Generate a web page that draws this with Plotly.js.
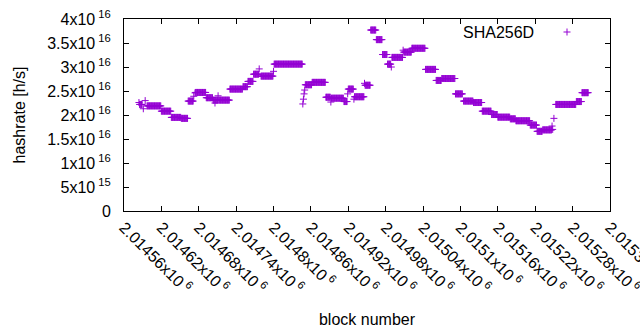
<!DOCTYPE html>
<html>
<head>
<meta charset="utf-8">
<script src="https://cdn.plot.ly/plotly-3.0.1.min.js"></script>
<style>html,body{margin:0;padding:0;background:#fff;}#chart{width:640px;height:330px;}</style>
</head>
<body>
<div id="chart"></div>
<script>
// Step segments: first block, last block, hashrate (x10^16 h/s)
const segFirst = [2014584,2014585,2014591,2014594,2014597,2014620,2014636,2014652,2014663,2014672,2014674,2014675,2014692,2014703,2014706,2014707,2014711,2014712,2014730,2014751,2014759,2014768,2014777,2014780,2014800,2014801,2014847,2014848,2014849,2014850,2014851,2014862,2014884,2014892,2014893,2014913,2014919,2014920,2014929,2014930,2014946,2014947,2014956,2014965,2014975,2014983,2014989,2014990,2015008,2015009,2015022,2015044,2015061,2015070,2015092,2015105,2015121,2015135,2015150,2015160,2015180,2015189,2015212,2015223,2015232,2015247,2015248,2015250,2015253,2015286,2015295];
const segLast  = [2014584,2014589,2014591,2014594,2014619,2014635,2014651,2014662,2014671,2014672,2014674,2014691,2014702,2014705,2014706,2014710,2014711,2014729,2014750,2014758,2014767,2014776,2014777,2014799,2014800,2014846,2014847,2014848,2014849,2014850,2014861,2014883,2014891,2014892,2014912,2014918,2014919,2014928,2014929,2014945,2014946,2014955,2014964,2014974,2014982,2014988,2014989,2015007,2015008,2015021,2015043,2015060,2015069,2015091,2015103,2015120,2015134,2015149,2015159,2015179,2015188,2015211,2015222,2015231,2015246,2015247,2015248,2015250,2015285,2015294,2015305];
const segRate  = [2.26,2.22,2.13,2.30,2.19,2.08,1.95,1.93,2.29,2.39,2.46,2.47,2.36,2.31,2.25,2.31,2.40,2.31,2.54,2.59,2.70,2.85,2.96,2.81,2.91,3.06,2.23,2.33,2.44,2.52,2.63,2.68,2.37,2.27,2.35,2.28,2.44,2.54,2.33,2.38,2.66,2.62,3.77,3.57,3.26,3.06,3.00,3.20,3.35,3.31,3.39,2.95,2.72,2.76,2.44,2.29,2.26,2.08,2.01,1.955,1.92,1.88,1.79,1.66,1.69,1.77,1.70,1.93,2.22,2.28,2.465];

const xTickVals = [2014560,2014620,2014680,2014740,2014800,2014860,2014920,2014980,2015040,2015100,2015160,2015220,2015280,2015340];
const xTickText = ['2.01456x10<sup> 6</sup>','2.01462x10<sup> 6</sup>','2.01468x10<sup> 6</sup>','2.01474x10<sup> 6</sup>','2.0148x10<sup> 6</sup>','2.01486x10<sup> 6</sup>','2.01492x10<sup> 6</sup>','2.01498x10<sup> 6</sup>','2.01504x10<sup> 6</sup>','2.0151x10<sup> 6</sup>','2.01516x10<sup> 6</sup>','2.01522x10<sup> 6</sup>','2.01528x10<sup> 6</sup>','2.01534x10<sup> 6</sup>'];
const yTickVals = [0,5e15,1e16,1.5e16,2e16,2.5e16,3e16,3.5e16,4e16];
const yTickText = ['0','5x10<sup> 15</sup>','1x10<sup> 16</sup>','1.5x10<sup> 16</sup>','2x10<sup> 16</sup>','2.5x10<sup> 16</sup>','3x10<sup> 16</sup>','3.5x10<sup> 16</sup>','4x10<sup> 16</sup>'];
const seriesName = 'SHA256D';

const xs = [], ys = [];
for (let i = 0; i < segFirst.length; i++) {
  for (let b = segFirst[i]; b <= segLast[i]; b++) {
    xs.push(b);
    ys.push(segRate[i] * 1e16);
  }
}

const purple = '#9400d3';
const font = {family: '"Liberation Sans", Arial, sans-serif', size: 16, color: '#000'};

const trace = {
  x: xs, y: ys, type: 'scatter', mode: 'markers', name: seriesName,
  marker: {symbol: 'cross-thin', size: 5, color: purple, line: {color: purple, width: 1}},
  showlegend: false
};

const px = 486, py = 192;
const lx = (567 - 124) / px, ly = (211 - 32) / py;
const layout = {
  width: 640, height: 330,
  margin: {l: 124, r: 30, t: 19, b: 119},
  paper_bgcolor: '#fff', plot_bgcolor: '#fff',
  font: font,
  showlegend: false,
  xaxis: {
    range: [2014560, 2015340],
    tickmode: 'array', tickvals: xTickVals, ticktext: xTickText,
    tickangle: 45, ticks: 'inside', ticklen: 5, tickcolor: '#000',
    showline: true, linecolor: '#000', linewidth: 1, mirror: 'ticks',
    showgrid: false, zeroline: false, automargin: false,
    ticklabeloverflow: 'allow',
    tickfont: font,
    title: {text: 'block number', font: font, standoff: 18}
  },
  yaxis: {
    range: [0, 4e16],
    tickmode: 'array', tickvals: yTickVals, ticktext: yTickText,
    ticks: 'inside', ticklen: 5, tickcolor: '#000',
    showline: true, linecolor: '#000', linewidth: 1, mirror: 'ticks',
    showgrid: false, zeroline: false, automargin: false,
    tickfont: font, ticklabelstandoff: 9,
    title: {text: 'hashrate [h/s]', font: font, standoff: 17}
  },
  annotations: [{
    xref: 'paper', yref: 'paper', x: (536 - 124) / px, y: ly,
    xanchor: 'right', yanchor: 'middle', showarrow: false,
    text: seriesName, font: font
  }],
  shapes: [
    {type: 'line', xref: 'paper', yref: 'paper', x0: lx - 3.5 / px, x1: lx + 3.5 / px, y0: ly, y1: ly, line: {color: purple, width: 1}},
    {type: 'line', xref: 'paper', yref: 'paper', x0: lx, x1: lx, y0: ly - 3.5 / py, y1: ly + 3.5 / py, line: {color: purple, width: 1}}
  ]
};

Plotly.newPlot('chart', [trace], layout, {staticPlot: true, displayModeBar: false});
</script>
</body>
</html>
